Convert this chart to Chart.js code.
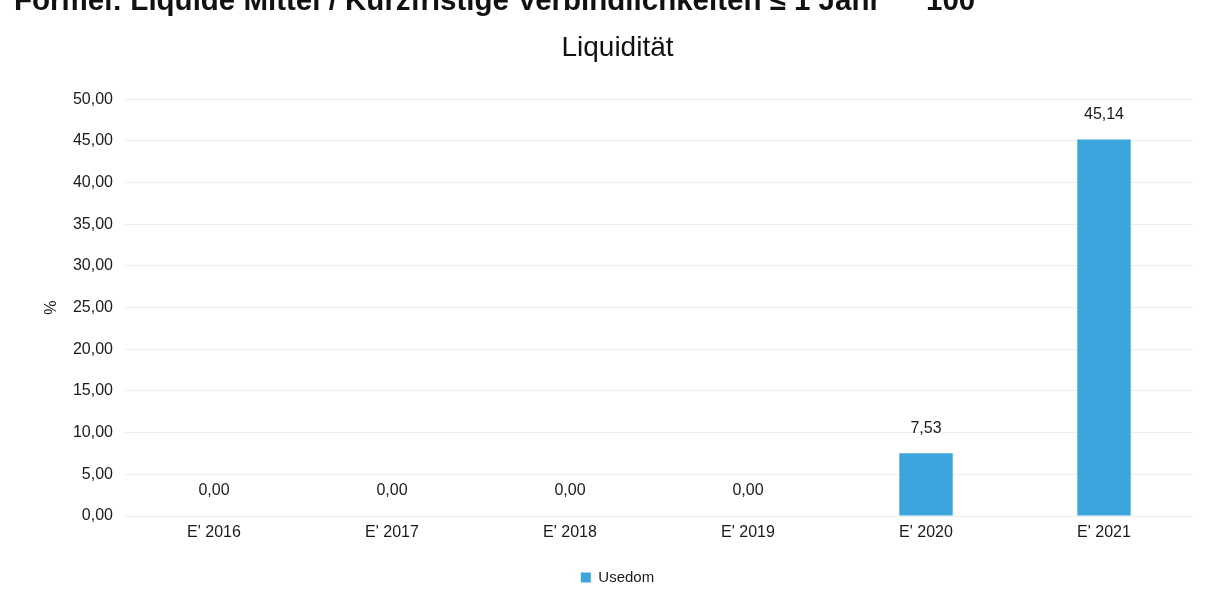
<!DOCTYPE html>
<html lang="de">
<head>
<meta charset="utf-8">
<title>Liquidität</title>
<script src="https://cdn.jsdelivr.net/npm/chart.js@4/dist/chart.umd.min.js"></script>
<style>
    html, body { margin: 0; padding: 0; background: #fff; overflow: hidden; }
    #wrap { position: relative; width: 1208px; height: 598px; }
    .formel {
        position: absolute; top: -17px; white-space: nowrap; line-height: 29px;
        font: bold 29.5px "Liberation Sans", Arial, sans-serif; color: #111;
    }
    #chart { position: absolute; left: 0; top: 0; }
</style>
</head>
<body>
<div id="wrap">
    <canvas id="chart" width="1208" height="598"></canvas>
    <div class="formel" style="left: 14px;">Formel: Liquide Mittel / Kurzfristige Verbindlichkeiten ≤ 1 Jahr</div>
    <div class="formel" style="left: 926px;">100</div>
</div>
<script>
// chart data
const categories = ["E' 2016", "E' 2017", "E' 2018", "E' 2019", "E' 2020", "E' 2021"];
const usedom = [0, 0, 0, 0, 7.53, 45.14];
const yTicks = [0, 5, 10, 15, 20, 25, 30, 35, 40, 45, 50];

const fontFamily = '"Liberation Sans", Arial, sans-serif';
const barColor = '#3da5de';

function fmt(v) {
    return v.toFixed(2).replace('.', ',');
}

// draws the value above every bar
const valueLabels = {
    id: 'valueLabels',
    afterDatasetsDraw(chart) {
        const ctx = chart.ctx;
        const meta = chart.getDatasetMeta(0);
        ctx.save();
        ctx.font = '16px ' + fontFamily;
        ctx.fillStyle = '#1a1a1a';
        ctx.textAlign = 'center';
        ctx.textBaseline = 'middle';
        meta.data.forEach((bar, i) => {
            ctx.fillText(fmt(usedom[i]), bar.x, bar.y - 25);
        });
        ctx.restore();
    }
};

new Chart(document.getElementById('chart').getContext('2d'), {
    type: 'bar',
    data: {
        labels: categories,
        datasets: [{
            label: 'Usedom',
            data: usedom,
            backgroundColor: barColor,
            barPercentage: 0.6,
            categoryPercentage: 0.5
        }]
    },
    options: {
        responsive: false,
        animation: false,
        layout: { padding: { left: 42, right: 15, top: 31, bottom: 3 } },
        plugins: {
            title: {
                display: true,
                text: 'Liquidität',
                color: '#111',
                font: { family: fontFamily, size: 28, weight: 'normal' },
                padding: { top: 0, bottom: 34.5 }
            },
            legend: {
                position: 'bottom',
                labels: {
                    boxWidth: 10,
                    boxHeight: 10,
                    padding: 10,
                    color: '#1a1a1a',
                    font: { family: fontFamily, size: 15 }
                }
            },
            tooltip: { enabled: false }
        },
        scales: {
            x: {
                afterFit: scale => { scale.height = 44; },
                grid: { display: false, drawTicks: false },
                border: { display: false },
                ticks: { color: '#1a1a1a', font: { family: fontFamily, size: 16 }, padding: 7 }
            },
            y: {
                min: 0,
                max: 50,
                afterBuildTicks: scale => { scale.ticks = yTicks.map(v => ({ value: v })); },
                afterFit: scale => { scale.width = 83; },
                grid: { color: '#eeeeee', drawTicks: false },
                border: { display: false },
                title: { display: true, text: '%', color: '#1a1a1a', font: { family: fontFamily, size: 16 }, padding: 0 },
                ticks: {
                    color: '#1a1a1a',
                    padding: 12,
                    font: { family: fontFamily, size: 16 },
                    callback: v => fmt(v)
                }
            }
        }
    },
    plugins: [valueLabels]
});
</script>
</body>
</html>
